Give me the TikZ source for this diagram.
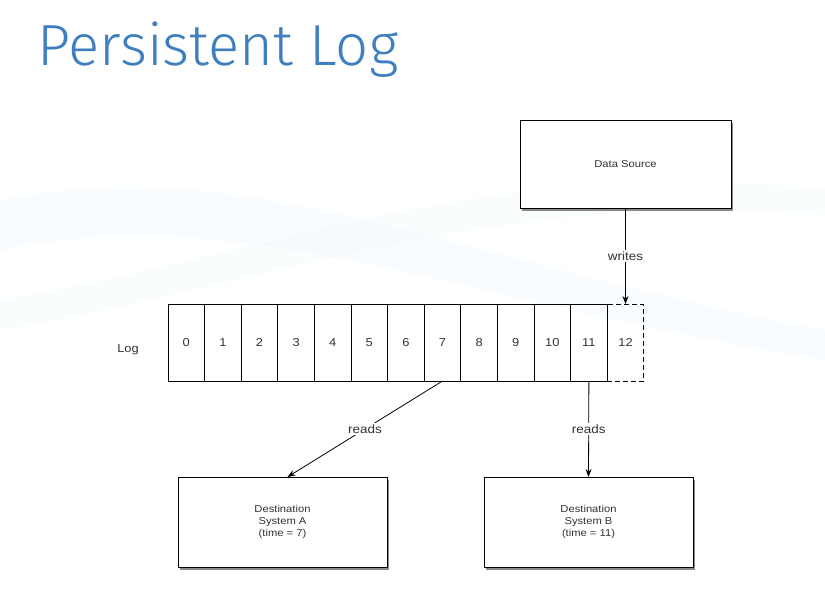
\documentclass[tikz,border=0pt]{standalone}
\usepackage{fontspec}
\setmainfont{Liberation Sans}
\newfontfamily\diagfont{Liberation Sans}[FakeStretch=1.12]
\IfFontExistsTF{Fira Sans Light}
	{\newfontfamily\titlefont{Fira Sans Light}}
	{\newfontfamily\titlefont{Lato}}
\usetikzlibrary{arrows.meta,shadows}

\definecolor{titleblue}{HTML}{3F7FBF}
\definecolor{labelgray}{HTML}{333333}
\definecolor{swoosh}{HTML}{EEF8FC}
\definecolor{shadowgray}{HTML}{8A8A8A}

\tikzset{
	logcell/.style={draw, line width=0.8pt, minimum width=36.6pt, minimum height=77pt,
		inner sep=0pt, outer sep=0pt, font=\diagfont\fontsize{11.5}{13}\selectfont, text=labelgray},
	sysbox/.style={draw, line width=0.8pt, fill=white, inner sep=0pt, outer sep=0pt,
		align=center, font=\diagfont\fontsize{10}{12}\selectfont, text=labelgray,
		drop shadow={shadow xshift=2pt, shadow yshift=-3pt, fill=shadowgray, draw=none, opacity=1}},
	flow/.style={line width=0.8pt, -{Stealth[length=8pt,width=6pt]}},
	flowlabel/.style={fill=white, inner sep=1.5pt, font=\diagfont\fontsize{12}{13}\selectfont, text=labelgray}
}

\begin{document}
\begin{tikzpicture}[x=1pt,y=-1pt]
			\useasboundingbox (0,0) rectangle (825,590);
			% faint background swooshes
			\fill[swoosh, opacity=0.4] (0,200) .. controls (250,150) and (450,260) .. (825,330)
				-- (825,360) .. controls (450,300) and (250,200) .. (0,250) -- cycle;
			\fill[swoosh, opacity=0.3] (0,300) .. controls (250,260) and (500,150) .. (825,190)
				-- (825,215) .. controls (500,185) and (250,290) .. (0,330) -- cycle;
			% title
			\node[anchor=base west, inner sep=0pt, text=titleblue, font=\titlefont\fontsize{58}{60}\selectfont]
				(title) at (37,65) {Persistent Log};
			% source
			\node[sysbox, minimum width=211pt, minimum height=88pt] (source) at (625.5,164) {Data Source};
			% log
			\node[text=labelgray, font=\diagfont\fontsize{11.5}{13}\selectfont] (loglabel) at (128,350) {Log};
			\foreach \i in {0,...,11}
				\node[logcell] (c\i) at (186.3+36.6*\i,342.5) {\i};
			\node[logcell, dash pattern=on 5pt off 3pt] (c12) at (186.3+36.6*12,342.5) {12};
			% destinations
			\node[sysbox, minimum width=209pt, minimum height=90pt] (destA) at (282.5,522) {Destination\\System A\\(time = 7)};
			\node[sysbox, minimum width=209pt, minimum height=90pt] (destB) at (588.5,522) {Destination\\System B\\(time = 11)};
			% arrows
			\draw[flow] (source.south) -- node[flowlabel] {writes} (c12.north);
			\draw[flow] (c7.south) -- node[flowlabel] {reads} ([xshift=5pt]destA.north);
			\draw[flow] (c11.south) -- node[flowlabel] {reads} (destB.north);
\end{tikzpicture}
\end{document}
